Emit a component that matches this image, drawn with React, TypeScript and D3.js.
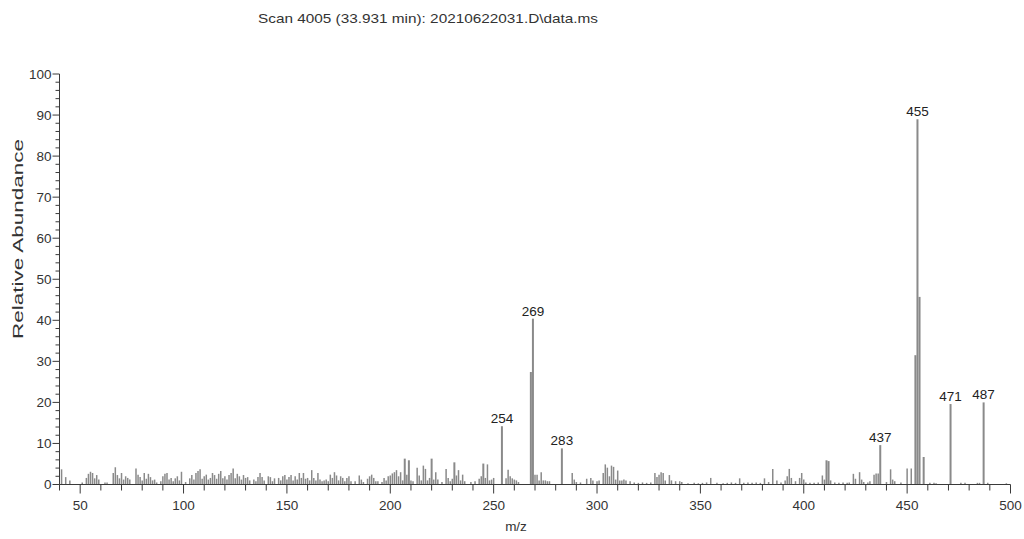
import React from "react";
import * as d3 from "d3";

const titleText = "Scan 4005 (33.931 min): 20210622031.D\\data.ms";
const xLabel = "m/z";
const yLabel = "Relative Abundance";
const xTicks = [50, 100, 150, 200, 250, 300, 350, 400, 450, 500];
const yTicks = [0, 10, 20, 30, 40, 50, 60, 70, 80, 90, 100];
const labeledPeaks = [254, 269, 283, 437, 455, 471, 487];

// [m/z, relative abundance]
const spectrum: [number, number][] = [
  [41, 3.7], [43, 1.8], [45, 1], [51, 0.5], [53, 1.6], [54, 2.6], [55, 3.1], [56, 2.8], [57, 1.5], [58, 2.3], [59, 1.2],
  [62, 0.5], [63, 0.5], [66, 2.8], [67, 4.2], [68, 2.3], [69, 1.5], [70, 2.8], [71, 1.2], [72, 2], [73, 1.6], [74, 1.2],
  [77, 3.9], [78, 2.4], [79, 1.8], [80, 1], [81, 2.8], [82, 1.4], [83, 2.6], [84, 1.8], [85, 1], [86, 1.2], [87, 0.5],
  [89, 0.8], [90, 2], [91, 2.6], [92, 2.8], [93, 1.2], [94, 1.6], [95, 0.8], [96, 1.5], [97, 2], [98, 1], [99, 3.1],
  [101, 0.6], [103, 1.5], [104, 2.3], [105, 1.2], [106, 2.8], [107, 3.3], [108, 3.7], [109, 1.4], [110, 2], [111, 2.4],
  [112, 1.2], [113, 1.6], [114, 2.8], [115, 2.3], [116, 1.4], [117, 2.6], [118, 3.3], [119, 1.5], [120, 2], [121, 1.2],
  [122, 2.3], [123, 2.8], [124, 3.9], [125, 1.5], [126, 2.6], [127, 2], [128, 1.2], [129, 2.3], [130, 1.6], [131, 1.8],
  [132, 1], [134, 1.2], [135, 0.8], [136, 1.8], [137, 2.8], [138, 1.8], [139, 1], [141, 2], [142, 1.8], [143, 0.8],
  [144, 1.5], [146, 1.6], [147, 1], [148, 2], [149, 2.3], [150, 1.2], [151, 1.8], [152, 2.3], [153, 1], [154, 2],
  [155, 1.2], [156, 2.8], [157, 1.6], [158, 2.8], [159, 1.4], [160, 1.6], [161, 1], [162, 3.5], [163, 1.6], [164, 1],
  [165, 2.8], [166, 1.2], [167, 0.8], [168, 1], [169, 1.2], [170, 0.8], [171, 2.4], [172, 1.6], [173, 3], [174, 2.2],
  [175, 1], [176, 2], [177, 1.6], [178, 0.8], [179, 1.6], [180, 2], [181, 0.8], [183, 0.8], [185, 2.2], [186, 1.2],
  [187, 0.6], [189, 1.4], [190, 2], [191, 2.4], [192, 1.6], [193, 0.8], [194, 0.8], [196, 0.6], [197, 1.6], [198, 1],
  [199, 2], [200, 2.2], [201, 2.7], [202, 3], [203, 3.5], [204, 2], [205, 3], [206, 1], [207, 6.3], [208, 2.4],
  [209, 5.9], [210, 1], [211, 0.8], [213, 4.1], [214, 2.2], [215, 1], [216, 4.6], [217, 3.8], [218, 1], [219, 1.6],
  [220, 6.3], [221, 1.2], [222, 3], [223, 1.2], [225, 0.6], [227, 3.8], [228, 1.6], [229, 0.8], [230, 1.4], [231, 5.4],
  [232, 2.2], [233, 3.5], [234, 1], [235, 2.4], [236, 0.8], [239, 0.6], [241, 0.8], [243, 1.4], [244, 2], [245, 5.1],
  [246, 1.6], [247, 4.9], [248, 1], [249, 1.2], [250, 1.6], [254, 14.2], [256, 1.5], [257, 3.6], [258, 2], [259, 1.5],
  [260, 1.2], [261, 1], [262, 0.6], [268, 27.4], [269, 40.4], [270, 2.4], [271, 2.4], [272, 1], [273, 3], [274, 1],
  [275, 1], [276, 0.8], [277, 0.8], [283, 8.8], [288, 2.8], [289, 1.2], [290, 0.6], [292, 0.5], [295, 1.4], [297, 1.6],
  [298, 1], [300, 0.8], [301, 1], [303, 2.8], [304, 4.9], [305, 4.1], [306, 2], [307, 4.6], [308, 4.3], [309, 1.2],
  [310, 3.4], [311, 1], [312, 1], [313, 1.2], [314, 1], [316, 0.8], [318, 0.5], [320, 0.4], [322, 0.5], [324, 0.4],
  [326, 0.5], [328, 2.8], [329, 1.8], [330, 2.4], [331, 3], [332, 2.8], [333, 1], [335, 2.3], [336, 1], [338, 0.8],
  [340, 0.8], [341, 0.6], [344, 0.3], [347, 0.4], [349, 0.3], [351, 0.4], [353, 0.5], [355, 1.6], [358, 0.4], [361, 0.3],
  [363, 0.4], [365, 0.5], [367, 0.4], [369, 1.5], [371, 0.4], [373, 0.5], [375, 0.4], [377, 0.5], [379, 0.4], [381, 1.5],
  [383, 0.6], [385, 3.8], [387, 1], [389, 0.5], [391, 1], [392, 2], [393, 3.8], [394, 1.6], [396, 0.8], [398, 1.6],
  [399, 2.8], [400, 1.2], [401, 0.5], [403, 0.4], [405, 0.4], [407, 0.5], [409, 2.2], [410, 1.2], [411, 5.9], [412, 5.7],
  [413, 1], [415, 0.5], [417, 0.4], [419, 0.5], [421, 0.4], [422, 0.5], [424, 2.6], [425, 1.4], [427, 3], [428, 1.2],
  [429, 0.6], [431, 0.5], [432, 0.8], [434, 2.4], [435, 2.7], [436, 2.7], [437, 9.6], [440, 0.6], [442, 3.7], [443, 1.2],
  [444, 0.8], [447, 0.5], [450, 3.9], [452, 3.9], [454, 31.5], [455, 89], [456, 45.7], [458, 6.7], [461, 0.4], [463, 0.4],
  [464, 0.3], [471, 19.6], [476, 0.4], [478, 0.4], [484, 0.4], [485, 0.4], [487, 20], [489, 0.4], [498, 0.3],
];

const W = 1024;
const H = 539;
const left = 59.5;
const right = 1010.5;
const top = 74;
const bottom = 484.5;
const font = "'Liberation Sans', Arial, Helvetica, sans-serif";
const axisColor = "#3a3a3a";
const barColor = "#8a8a8a";

export default function App() {
  const x = d3.scaleLinear().domain([40, 500]).range([left, right]);
  const y = d3.scaleLinear().domain([0, 100]).range([bottom, top]);
  const xMinor = d3.range(40, 501, 10).filter((v) => v % 50 !== 0);
  const yMinor = d3.range(0, 101, 2).filter((v) => v % 10 !== 0);
  const lookup = new Map(spectrum);

  return (
    <svg
      width={W}
      height={H}
      style={{ position: "absolute", left: 0, top: 0, background: "#fff" }}
      fontFamily={font}
    >
      <rect x={0} y={0} width={W} height={H} fill="#fff" />
      <text
        x={428}
        y={23}
        textAnchor="middle"
        fontSize={13.5}
        fill="#333"
        textLength={340}
        lengthAdjust="spacingAndGlyphs"
      >
        {titleText}
      </text>

      {spectrum.map(([m, v]) => (
        <line
          key={m}
          x1={x(m)}
          x2={x(m)}
          y1={y(0)}
          y2={y(v)}
          stroke={barColor}
          strokeWidth={v > 5 ? 2 : 1.5}
        />
      ))}

      {labeledPeaks.map((m) => (
        <text
          key={m}
          x={x(m)}
          y={y(lookup.get(m) ?? 0) - 3}
          textAnchor="middle"
          fontSize={13.5}
          fill="#222"
        >
          {m}
        </text>
      ))}

      {/* y axis */}
      <line x1={left} x2={left} y1={top} y2={bottom} stroke={axisColor} strokeWidth={1} />
      {yTicks.map((t) => (
        <g key={t}>
          <line x1={left - 7} x2={left} y1={y(t)} y2={y(t)} stroke={axisColor} />
          <text x={left - 8} y={y(t) + 4.5} textAnchor="end" fontSize={13.5} fill="#333">
            {t}
          </text>
        </g>
      ))}
      {yMinor.map((t) => (
        <line key={t} x1={left - 4} x2={left} y1={y(t)} y2={y(t)} stroke={axisColor} />
      ))}
      <text
        transform={`translate(23,239) rotate(-90)`}
        textAnchor="middle"
        fontSize={15}
        fill="#333"
        textLength={200}
        lengthAdjust="spacingAndGlyphs"
      >
        {yLabel}
      </text>

      {/* x axis */}
      <line x1={left} x2={right} y1={bottom} y2={bottom} stroke={axisColor} strokeWidth={1} />
      {xTicks.map((t) => (
        <g key={t}>
          <line x1={x(t)} x2={x(t)} y1={bottom} y2={bottom + 9} stroke={axisColor} />
          <text x={x(t)} y={bottom + 25} textAnchor="middle" fontSize={13.5} fill="#333">
            {t}
          </text>
        </g>
      ))}
      {xMinor.map((t) => (
        <line key={t} x1={x(t)} x2={x(t)} y1={bottom} y2={bottom + 6} stroke={axisColor} />
      ))}
      <text x={516} y={531} textAnchor="middle" fontSize={13.5} fill="#333">
        {xLabel}
      </text>
    </svg>
  );
}
